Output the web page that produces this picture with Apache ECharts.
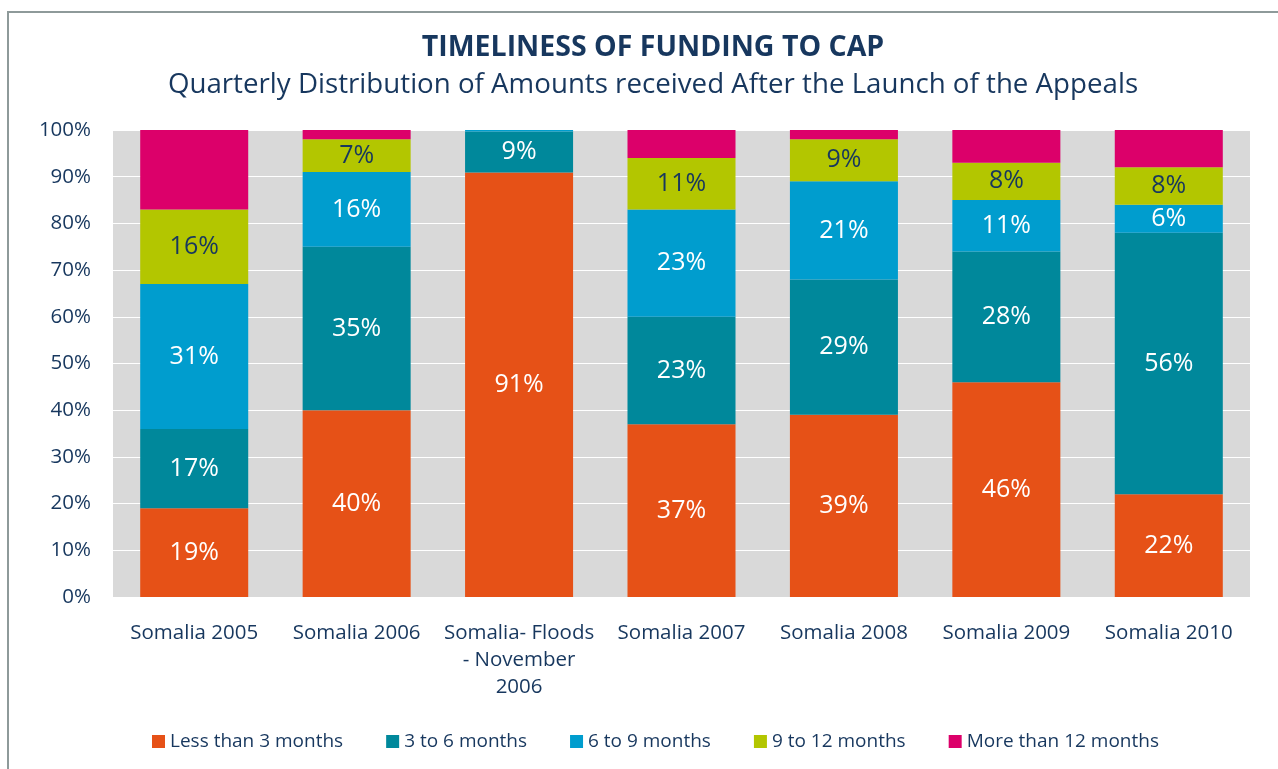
<!DOCTYPE html>
<html>
<head>
<meta charset="utf-8">
<script src="https://cdn.jsdelivr.net/npm/echarts@6/dist/echarts.min.js"></script>
<style>
  html, body { margin: 0; padding: 0; background: #fff; overflow: hidden; }
  #chart { width: 1278px; height: 769px; position: absolute; left: 0; top: 0; }
  #frame { position: absolute; left: 7px; top: 11px; width: 1300px; height: 800px;
           border: 2px solid #8e9a9a; box-sizing: border-box; pointer-events: none; }
</style>
</head>
<body>
<div id="chart"></div>
<div id="frame"></div>
<script>
// 分类与数据
var categories = ['Somalia 2005', 'Somalia 2006', 'Somalia- Floods\n- November\n2006',
  'Somalia 2007', 'Somalia 2008', 'Somalia 2009', 'Somalia 2010'];
var lessThan3 = [19, 40, 90.9, 37, 39, 46, 22];
var from3to6 = [17, 35, 8.8, 23, 29, 28, 56];
var from6to9 = [31, 16, 0.3, 23, 21, 11, 6];
var from9to12 = [16, 7, 0, 11, 9, 8, 8];
var moreThan12 = [17, 2, 0, 6, 2, 7, 8];
var yTicks = [0, 10, 20, 30, 40, 50, 60, 70, 80, 90, 100];

var navy = '#17375e';
var chartDom = document.getElementById('chart');
var myChart = echarts.init(chartDom);

function makeSeries(name, data, color, textColor, showLabel) {
  return {
    name: name,
    type: 'bar',
    stack: 'total',
    barCategoryGap: '33.5%',
    data: data,
    itemStyle: { color: color },
    label: {
      show: showLabel,
      position: 'inside',
      color: textColor,
      fontSize: 25,
      fontFamily: 'Open Sans',
      formatter: function (p) {
        // 小数值不显示
        return p.value >= 1 ? Math.round(p.value) + '%' : '';
      }
    }
  };
}

var option = {
  animation: false,
  title: [
    {
      text: 'TIMELINESS OF FUNDING TO CAP',
      left: 648, top: 28, textAlign: 'center',
      textStyle: { color: navy, fontSize: 28.5, fontWeight: 'bold', fontFamily: 'Open Sans' }
    },
    {
      text: 'Quarterly Distribution of Amounts received After the Launch of the Appeals',
      left: 648, top: 66, textAlign: 'center',
      textStyle: { color: navy, fontSize: 27.7, fontWeight: 'normal', fontFamily: 'Open Sans' }
    }
  ],
  grid: {
    left: 113, right: 28, top: 130, bottom: 172,
    show: true, backgroundColor: '#d9d9d9', borderWidth: 0
  },
  legend: {
    bottom: 13,
    left: 147,
    icon: 'rect',
    itemWidth: 13, itemHeight: 13,
    itemGap: 43,
    textStyle: { color: navy, fontSize: 19, fontFamily: 'Open Sans' },
    data: ['Less than 3 months', '3 to 6 months', '6 to 9 months', '9 to 12 months', 'More than 12 months']
  },
  xAxis: {
    type: 'category',
    data: categories,
    axisLine: { show: false },
    axisTick: { show: false },
    axisLabel: {
      color: navy, fontSize: 20.5, fontFamily: 'Open Sans',
      margin: 23, lineHeight: 27, interval: 0
    }
  },
  yAxis: {
    type: 'value',
    min: yTicks[0], max: yTicks[yTicks.length - 1], interval: 10,
    axisLine: { show: false },
    axisTick: { show: false },
    axisLabel: {
      color: navy, fontSize: 20.5, fontFamily: 'Open Sans', margin: 22,
      formatter: '{value}%'
    },
    splitLine: { show: true, lineStyle: { color: '#ffffff', width: 1 } }
  },
  series: [
    makeSeries('Less than 3 months', lessThan3, '#e65117', '#ffffff', true),
    makeSeries('3 to 6 months', from3to6, '#00889b', '#ffffff', true),
    makeSeries('6 to 9 months', from6to9, '#009dce', '#ffffff', true),
    makeSeries('9 to 12 months', from9to12, '#b3c600', navy, true),
    makeSeries('More than 12 months', moreThan12, '#dc006a', '#ffffff', false)
  ]
};

myChart.setOption(option);
</script>
</body>
</html>
